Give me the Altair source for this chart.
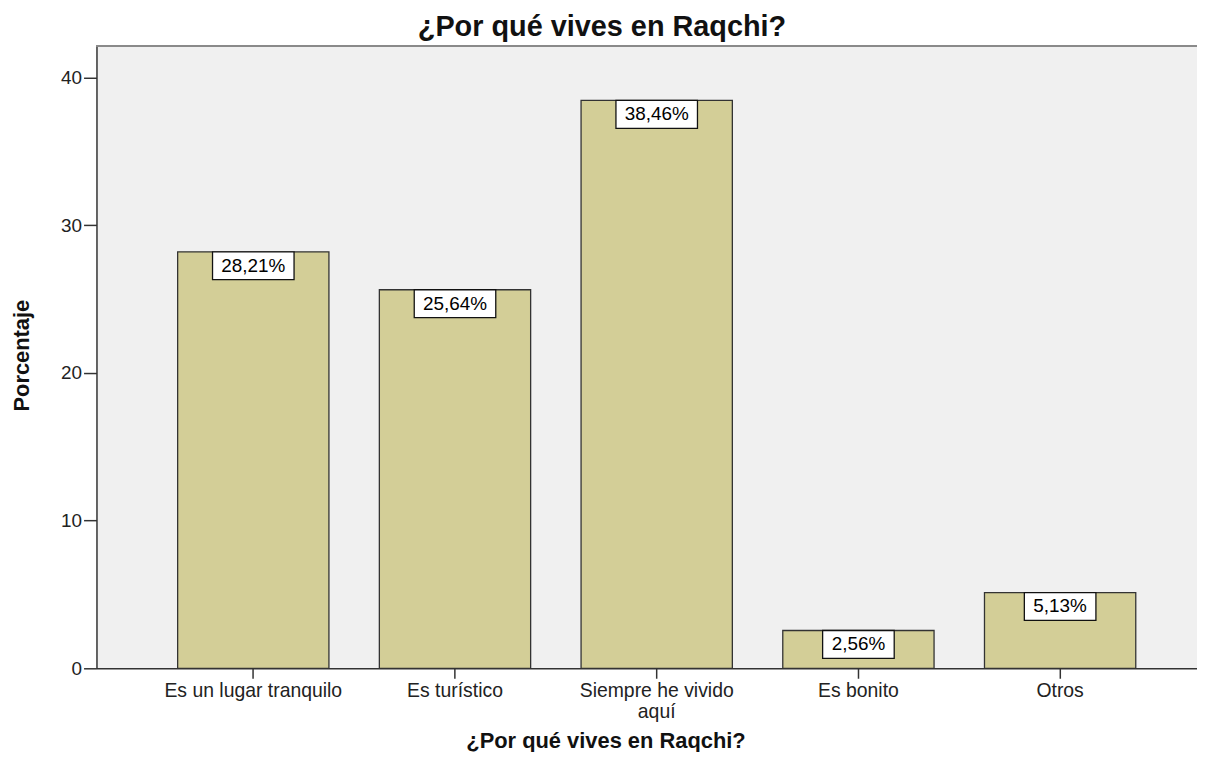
import altair as alt
import pandas as pd

categories = ["Es un lugar tranquilo", "Es turístico", "Siempre he vivido aquí", "Es bonito", "Otros"]
values = [28.21, 25.64, 38.46, 2.56, 5.13]
labels = ["28,21%", "25,64%", "38,46%", "2,56%", "5,13%"]

df = pd.DataFrame({"cat": categories, "pct": values, "lab": labels})
df["n"] = df["lab"].str.len()

FONT = "Liberation Sans"
W, H = 1107, 626

xscale = alt.Scale(domain=categories, paddingInner=0.25, paddingOuter=0.353, align=0.57)
yscale = alt.Scale(domain=[0, 42.15], nice=False, zero=True)

x_enc = alt.X(
    "cat:N", scale=xscale, sort=categories,
    axis=alt.Axis(
        title="¿Por qué vives en Raqchi?", labelAngle=0, labelFontSize=19.5, labelColor="#222",
        labelFont=FONT, titleFont=FONT, titleFontSize=22, titleFontWeight="bold", titleColor="#111",
        tickSize=10, tickColor="#333", tickWidth=1.5, domainColor="#333", domainWidth=1.5,
        labelPadding=3, labelLineHeight=21, labelBaseline="top", labelLimit=260,
        labelExpr="datum.label == 'Siempre he vivido aquí' ? ['Siempre he vivido', 'aquí'] : datum.label",
        titleX=512, titleY=73, titleAlign="center", titleBaseline="middle", grid=False,
    ),
)
y_enc = alt.Y(
    "pct:Q", scale=yscale,
    axis=alt.Axis(
        title="Porcentaje", values=[0, 10, 20, 30, 40], labelFontSize=19, labelColor="#222",
        labelFont=FONT, titleFont=FONT, titleFontSize=22, titleFontWeight="bold", titleColor="#111",
        tickSize=13, tickColor="#333", tickWidth=1.5, domainColor="#333", domainWidth=1.5,
        labelPadding=2, grid=False,
        titleX=-75, titleY=311, titleAlign="center", titleBaseline="middle", titleAngle=270,
    ),
)

bars = alt.Chart(df).mark_bar(fill="#d3ce97", stroke="#333", strokeWidth=1.3).encode(x=x_enc, y=y_enc)

box_wide = alt.Chart(df).transform_filter("datum.n >= 6").mark_bar(
    width=82, fill="white", stroke="#111", strokeWidth=1.3, y2Offset=28,
).encode(
    x=alt.X("cat:N", scale=xscale, sort=categories),
    y=alt.Y("pct:Q", scale=yscale),
    y2=alt.Y2("pct:Q"),
)
box_narrow = alt.Chart(df).transform_filter("datum.n < 6").mark_bar(
    width=72, fill="white", stroke="#111", strokeWidth=1.3, y2Offset=28,
).encode(
    x=alt.X("cat:N", scale=xscale, sort=categories),
    y=alt.Y("pct:Q", scale=yscale),
    y2=alt.Y2("pct:Q"),
)

texts = alt.Chart(df).mark_text(
    font=FONT, fontSize=19, color="#000", baseline="middle", align="center", yOffset=14,
).encode(
    x=alt.X("cat:N", scale=xscale, sort=categories),
    y=alt.Y("pct:Q", scale=yscale),
    text="lab:N",
)

top_border = alt.Chart(df).mark_rule(color="#8a8a8a", strokeWidth=2).encode(
    x=alt.value(0), x2=alt.value(W), y=alt.value(0)
)

chart = alt.layer(bars, box_wide, box_narrow, texts, top_border).properties(
    width=W, height=H,
    background="white",
    autosize=alt.AutoSizeParams(type="none"),
    padding={"left": 89, "top": 36, "right": 0, "bottom": 82},
    title=alt.TitleParams(
        "¿Por qué vives en Raqchi?", font=FONT, fontSize=29, fontWeight="bold", color="#111",
        anchor="middle", dx=-45, offset=3,
    ),
).configure_view(
    fill="#f0f0f0", strokeWidth=0,
)

chart.save("out.html", embed_options={"renderer": "svg", "actions": False})
